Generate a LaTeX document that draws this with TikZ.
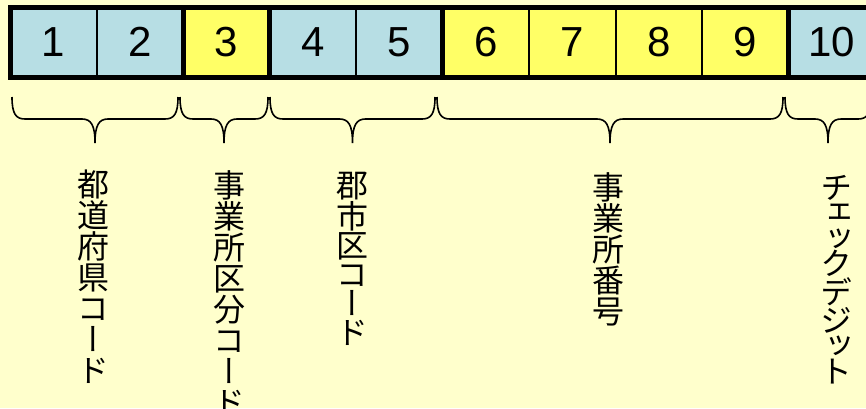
\documentclass[tikz,border=0pt]{standalone}
\usepackage{fontspec}
\setmainfont{Liberation Sans}
\newfontfamily\jpfont[RawFeature=+vert]{Noto Sans CJK JP}
\usetikzlibrary{positioning}

\definecolor{bgyellow}{RGB}{255,255,204}
\definecolor{cellblue}{RGB}{183,222,228}
\definecolor{cellyellow}{RGB}{255,255,102}

\tikzstyle{cell}=[draw=black,line width=2pt,minimum width=86.5pt,minimum height=69.5pt,inner sep=0pt,outer sep=0pt,font=\fontsize{42}{42}\selectfont]
\tikzstyle{thickline}=[draw=black,line width=5pt]
\tikzstyle{curly}=[draw=black,line width=1.6pt]
\tikzstyle{tate}=[inner sep=0pt,align=center,font=\jpfont\fontsize{32}{31}\selectfont]

% brace from x=#1 to x=#2, tip coordinate named #3
\newcommand{\codebrace}[3]{%
  \draw[curly] (#1,97) .. controls (#1,114) and ({#1+4},119) .. ({#1+13},119)
    -- ({(#1+#2)/2-13},119) .. controls ({(#1+#2)/2-4},119) and ({(#1+#2)/2},125) .. ({(#1+#2)/2},143) coordinate (#3)
    .. controls ({(#1+#2)/2},125) and ({(#1+#2)/2+4},119) .. ({(#1+#2)/2+13},119)
    -- ({#2-13},119) .. controls ({#2-4},119) and (#2,114) .. (#2,97);}

\begin{document}
\begin{tikzpicture}[x=1pt,y=-1pt]
\fill[bgyellow] (0,0) rectangle (866,408);
\useasboundingbox (0,0) rectangle (866,408);

% code digits
\foreach \n/\col in {1/cellblue,2/cellblue,3/cellyellow,4/cellblue,5/cellblue,6/cellyellow,7/cellyellow,8/cellyellow,9/cellyellow,10/cellblue}
   \node[cell,fill=\col] (c\n) at ({10+86.5*(\n-0.5)},42.25) {\n};

\draw[thickline] (c1.north west) rectangle (c10.south east);
\draw[thickline] (c2.north east) -- (c2.south east);
\draw[thickline] (c3.north east) -- (c3.south east);
\draw[thickline] (c5.north east) -- (c5.south east);
\draw[thickline] (c9.north east) -- (c9.south east);

% braces
\codebrace{12}{178}{t1}
\codebrace{180}{268}{t2}
\codebrace{270}{435}{t3}
\codebrace{437}{783}{t4}
\codebrace{785}{871}{t5}

% field names
\node[tate,below=27pt of t1,xshift=-2pt] (f1) {都\\道\\府\\県\\コ\\ー\\ド};
\node[tate,below=27pt of t2,xshift=5pt] (f2) {事\\業\\所\\区\\分\\コ\\ー\\ド};
\node[tate,below=29pt of t3,font=\jpfont\fontsize{32}{29}\selectfont] (f3) {郡\\市\\区\\コ\\ー\\ド};
\node[tate,below=29pt of t4,xshift=-2pt] (f4) {事\\業\\所\\番\\号};
\node[tate,below=32pt of t5,xshift=8pt,font=\jpfont\fontsize{32}{25.5}\selectfont] (f5) {チ\\ェ\\ッ\\ク\\デ\\ジ\\ッ\\ト};

\end{tikzpicture}
\end{document}
